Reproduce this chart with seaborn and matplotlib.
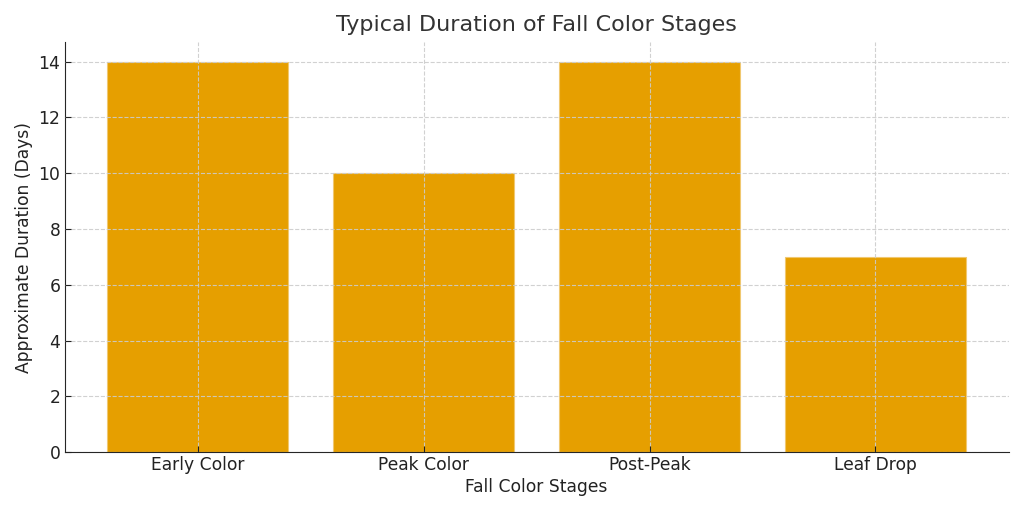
import matplotlib
matplotlib.use("Agg")
import matplotlib.pyplot as plt
import pandas as pd
import seaborn as sns

# Data
stages = ["Early Color", "Peak Color", "Post-Peak", "Leaf Drop"]
durations = [14, 10, 14, 7]

df = pd.DataFrame({"stage": stages, "days": durations})

sns.set_style("white")
plt.rcParams["font.family"] = ["DejaVu Sans"]

fig, ax = plt.subplots(figsize=(10.24, 5.12), dpi=100)
sns.barplot(data=df, x="stage", y="days", color="#E69F00", saturation=1,
            width=0.8, linewidth=0.8, edgecolor="#f0c870", ax=ax)

ax.set_axisbelow(False)
ax.grid(True, linestyle="--", color="#cccccc", linewidth=0.8, alpha=0.9)
ax.set_xlim(-0.59, 3.59)
ax.set_ylim(0, 14.7)
ax.set_yticks(range(0, 15, 2))
ax.tick_params(labelsize=12.3, colors="#222222", bottom=True, left=True,
               length=4, width=0.8, direction="in", pad=3)
ax.set_title("Typical Duration of Fall Color Stages", fontsize=16,
             color="#333333", pad=8)
ax.set_xlabel("Fall Color Stages", fontsize=12.3, color="#222222", labelpad=3)
ax.set_ylabel("Approximate Duration (Days)", fontsize=12.3, color="#222222",
              labelpad=4)
sns.despine(ax=ax)

fig.subplots_adjust(left=0.063, right=0.985, top=0.918, bottom=0.117)
fig.savefig("out.png", dpi=100)
